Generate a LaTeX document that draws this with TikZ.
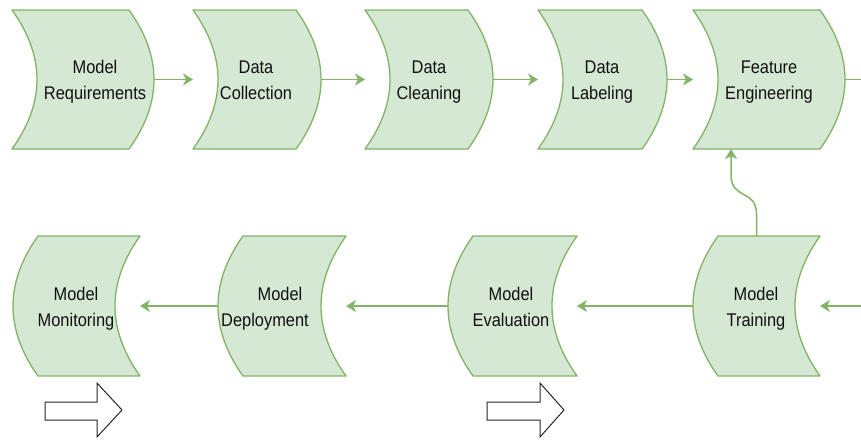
\documentclass[tikz,border=0pt]{standalone}
\usepackage{fontspec}
\setmainfont{Liberation Sans}
\usetikzlibrary{arrows.meta,calc}
\definecolor{gfill}{HTML}{D5E8D4}
\definecolor{gline}{HTML}{82B366}
\definecolor{txt}{HTML}{111111}
\newcommand\lbl[2]{\scalebox{1}[1.12]{\begin{tabular}{@{}c@{}}#1\\#2\end{tabular}}}
% top-row shape: concave left, convex right (name, left, right, top, bottom)
\newcommand\topstep[5]{%
  \node[boxarea, minimum width={#3-#2}, minimum height={#5-#4}] (#1) at ({(#2+#3)/2},{(#4+#5)/2}) {};
  \draw[shp] (#2,#4) -- ({#3-25},#4)
    .. controls ({#3+25/3},{#4+(#5-#4)/3}) and ({#3+25/3},{#5-(#5-#4)/3}) .. ({#3-25},#5)
    -- (#2,#5)
    .. controls ({#2+100/3},{#5-(#5-#4)/3}) and ({#2+100/3},{#4+(#5-#4)/3}) .. cycle;
}
% bottom-row shape: convex left, concave right
\newcommand\botstep[5]{%
  \node[boxarea, minimum width={#3-#2}, minimum height={#5-#4}] (#1) at ({(#2+#3)/2},{(#4+#5)/2}) {};
  \draw[shp] ({#2+25},#4) -- (#3,#4)
    .. controls ({#3-100/3},{#4+(#5-#4)/3}) and ({#3-100/3},{#5-(#5-#4)/3}) .. (#3,#5)
    -- ({#2+25},#5)
    .. controls ({#2-25/3},{#5-(#5-#4)/3}) and ({#2-25/3},{#4+(#5-#4)/3}) .. cycle;
}
\begin{document}
\begin{tikzpicture}[x=1pt,y=-1pt,
  boxarea/.style={draw=none, inner sep=0pt, outer sep=0pt, rectangle},
  shp/.style={draw=gline, fill=gfill, line width=1.3pt, line join=round},
  lab/.style={text=txt, inner sep=0pt, font=\fontsize{16.4}{23.2}\selectfont},
  conn/.style={draw=gline, line width=1.5pt, -{Stealth[length=10pt,width=12pt,inset=3pt]}},
  connplain/.style={draw=gline, line width=1.5pt},
  hollow/.style={draw=black!85, fill=white, line width=1pt, line join=miter}]
\useasboundingbox (0,0) rectangle (861,439);

\topstep{b1}{12}{154}{10}{149}
\topstep{b2}{193}{321}{10}{149}
\topstep{b3}{365}{493}{10}{149}
\topstep{b4}{538}{667}{10}{149}
\topstep{b5}{693}{845}{10}{149}

\botstep{mon}{13}{140}{236}{376}
\botstep{dep}{218}{346}{236}{376}
\botstep{eva}{448}{577}{236}{376}
\botstep{tra}{693}{820}{236}{376}

\node[lab] (t1) at (95,81) {\lbl{Model}{Requirements}};
\node[lab] (t2) at (256,81) {\lbl{Data}{Collection}};
\node[lab] (t3) at (429,81) {\lbl{Data}{Cleaning}};
\node[lab] (t4) at (602,81) {\lbl{Data}{Labeling}};
\node[lab] (t5) at (769,81) {\lbl{Feature}{Engineering}};
\node[lab] (t6) at (76,308) {\lbl{Model}{Monitoring}};
\node[lab] (t7) at (265,308) {\lbl{\hspace*{30pt}Model}{Deployment}};
\node[lab] (t8) at (511,308) {\lbl{Model}{Evaluation}};
\node[lab] (t9) at (756,308) {\lbl{Model}{Training}};

\coordinate (outR) at (861,79.5);
\coordinate (inR) at (861,306);

\draw[conn] (b1.east) -- (b2.west);
\draw[conn] (b2.east) -- (b3.west);
\draw[conn] (b3.east) -- (b4.west);
\draw[conn] (b4.east) -- (b5.west);
\draw[connplain] (b5.east) -- (outR);
\draw[conn] (inR) -- (tra.east);
\draw[conn] (tra.west) -- (eva.east);
\draw[conn] (eva.west) -- (dep.east);
\draw[conn] (dep.west) -- (mon.east);
\draw[conn] (tra.north) -- ++(0,-22) .. controls ++(0,-25) and ++(0,25) .. ([xshift=38pt,yshift=-26pt]b5.south west) -- ([xshift=38pt]b5.south west);

\draw[hollow] (45,402) -- (97,402) -- (97,383) -- (122,410) -- (97,437) -- (97,420) -- (45,420) -- cycle;
\draw[hollow] (487,402) -- (540,402) -- (540,383) -- (564,410) -- (540,437) -- (540,420) -- (487,420) -- cycle;
\end{tikzpicture}
\end{document}
